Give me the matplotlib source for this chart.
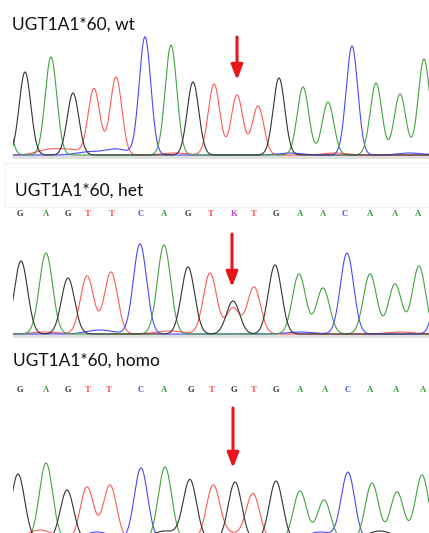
import numpy as np
import matplotlib.pyplot as plt
from matplotlib.patches import Rectangle

# --- peak tables (scan position, base, peak height) ---
wt_pos = [3, 25, 51, 73, 94, 116, 145, 171, 193, 214, 237, 258, 279, 303, 328, 352, 376, 400, 424, 448]
wt_base = "AGAGTTCAGTTTGAACAAAC"
wt_height = [70, 83, 98, 62, 66, 78, 118, 110, 73, 71, 60, 49, 77, 68, 53, 109, 72, 61, 96, 80]
wt_bump_pos = [48, 70, 88, 116, 175, 290, 335, 410]
wt_bump_base = "TTCCTCTC"
wt_bump_height = [5, 5, 3, 6, 2, 2, 2, 2]

het_pos = [21, 46, 68, 87, 111, 140, 164, 188, 210, 233, 233, 254, 275, 299, 323, 347, 370, 395, 419, 442]
het_base = "GAGTTCAGTGTTGAACAAAC"
het_height = [73, 81, 56, 58, 62, 90, 89, 67, 61, 33, 26, 47, 69, 60, 46, 81, 60, 50, 68, 75]
het_bump_pos = [45, 100, 170, 300, 400]
het_bump_base = "TCTCT"
het_bump_height = [2, 4, 3, 2, 2]
het_calls = "GAGTTCAGTKTGAACAAA"
het_call_pos = [20, 46, 68, 88, 112, 141, 164, 188, 211, 234, 254, 276, 300, 323, 345, 370, 395, 418]

homo_pos = [18, 46, 67, 87, 110, 141, 165, 190, 213, 235, 253, 276, 300, 324, 348, 372, 397, 422, 445]
homo_base = "GAGTTCAGTGTGAACAAAC"
homo_height = [66, 77, 50, 53, 55, 72, 73, 59, 52, 58, 45, 59, 49, 40, 67, 57, 48, 65, 70]
homo_bump_pos = [40, 97, 165, 230, 320, 380]
homo_bump_base = "TCGTCG"
homo_bump_height = [10, 8, 9, 7, 8, 9]
homo_calls = "GAGTTCAGTGTGAACAAA"
homo_call_pos = [20, 46, 68, 88, 109, 141, 164, 191, 212, 234, 254, 276, 300, 325, 348, 370, 396, 423]

trace_col = {'G': '#333333', 'A': '#44a344', 'T': '#ff5a5a', 'C': '#4848ff'}
call_col = {'G': '#333333', 'A': '#3a9a3a', 'T': '#ff4a4a', 'C': '#4a4aff', 'K': '#b548c8'}

W, H = 429, 533
fig = plt.figure(figsize=(W / 100, H / 100), dpi=100)


def px_axes(left, right, top, bottom):
    return fig.add_axes([left / W, 1 - bottom / H, (right - left) / W, (bottom - top) / H])


def draw_traces(ax, pos, base, height, bpos, bbase, bheight, sigma):
    x = np.linspace(0, 460, 2300)
    for b in 'TCAG':
        y = np.zeros_like(x)
        for p, bb, h in zip(pos, base, height):
            if bb == b:
                y += h * np.exp(-(x - p) ** 2 / (2 * sigma ** 2))
        for p, bb, h in zip(bpos, bbase, bheight):
            if bb == b:
                y += h * np.exp(-(x - p) ** 2 / (2 * (2 * sigma) ** 2))
        ax.plot(x, y, color=trace_col[b], lw=0.8)


def arrow(ax, x, y0, y1):
    ax.annotate('', xy=(x, y1), xytext=(x, y0),
                arrowprops=dict(arrowstyle='-|>,head_length=0.9,head_width=0.35',
                                color='#e8161b', lw=2.2, mutation_scale=10,
                                shrinkA=0, shrinkB=0))


def calls_row(ax, calls, cpos, y):
    for c, p in zip(calls, cpos):
        ax.text(p, y, c, color=call_col[c], fontsize=6.2, fontweight='bold',
                family='Liberation Serif', ha='center', va='center')


def clean(ax, lo, hi):
    ax.set_xlim(13, 429)
    ax.set_ylim(lo, hi)
    ax.axis('off')


# wt
ax1 = px_axes(13, 429, 28, 165)
ax1.axhspan(-4, 0, color='#e0e0e0', lw=0)
draw_traces(ax1, wt_pos, wt_base, wt_height, wt_bump_pos, wt_bump_base, wt_bump_height, 5.8)
arrow(ax1, 237, 118, 75)
clean(ax1, -10, 127)

# het
fig.patches.append(Rectangle((4 / W, 1 - 207 / H), (W - 4) / W, 44 / H, transform=fig.transFigure,
                             fill=False, ec='#f2f2f2', lw=0.8))
ax2 = px_axes(13, 429, 205, 342)
ax2.axhspan(-4, 0, color='#e0e0e0', lw=0)
draw_traces(ax2, het_pos, het_base, het_height, het_bump_pos, het_bump_base, het_bump_height, 6.6)
calls_row(ax2, het_calls, het_call_pos, 120)
arrow(ax2, 232, 100, 47)
clean(ax2, -8, 129)

# homo
ax3 = px_axes(13, 429, 380, 533)
draw_traces(ax3, homo_pos, homo_base, homo_height, homo_bump_pos, homo_bump_base, homo_bump_height, 6.7)
calls_row(ax3, homo_calls, homo_call_pos, 150)
arrow(ax3, 233, 132, 72)
clean(ax3, 7, 160)

title_kw = dict(fontsize=12.5, family='Lato', color='#111111', va='baseline')
fig.text(12 / W, 1 - 30 / H, 'UGT1A1*60, wt', **title_kw)
fig.text(15 / W, 1 - 196 / H, 'UGT1A1*60, het', **title_kw)
fig.text(13 / W, 1 - 366 / H, 'UGT1A1*60, homo', **title_kw)

fig.savefig('out.png', dpi=100)
